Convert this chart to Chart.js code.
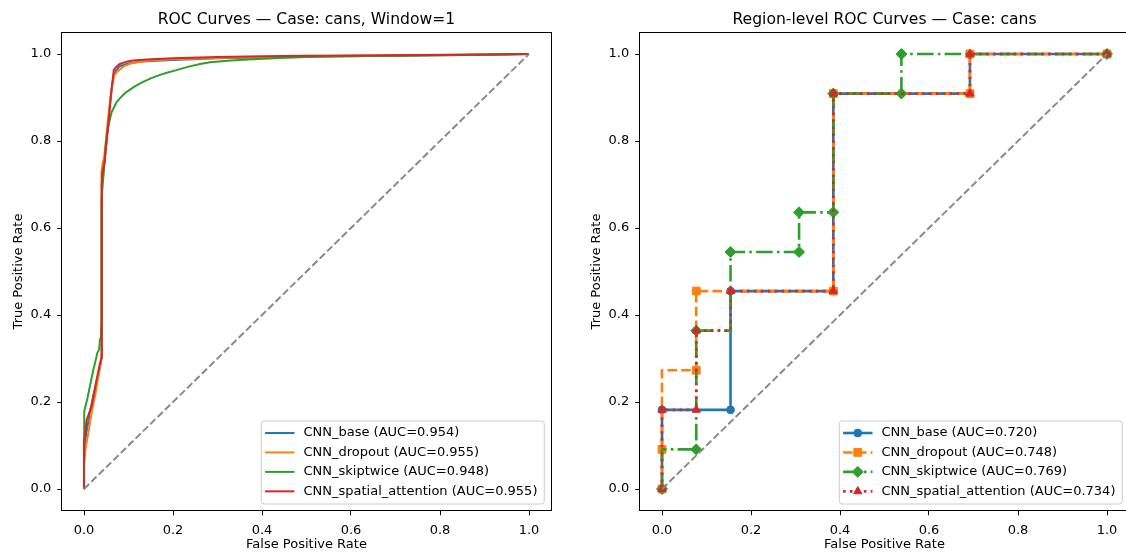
<!DOCTYPE html>
<html>
<head>
<meta charset="utf-8">
<title>ROC curves - cans</title>
<script src="https://cdn.jsdelivr.net/npm/chart.js@4.4.1/dist/chart.umd.min.js"></script>
<style>
  html, body { margin: 0; padding: 0; background: #fff; overflow: hidden; }
  body { width: 1126px; height: 552px; position: relative; }
  canvas { position: absolute; top: 0; }
  #pixelChart { left: 0; }
  #regionChart { left: 578px; }
</style>
</head>
<body>
<canvas id="pixelChart" width="563" height="552"></canvas>
<canvas id="regionChart" width="563" height="552"></canvas>
<script>
// Model names and AUC values from the legends
const modelNames = ['CNN_base', 'CNN_dropout', 'CNN_skiptwice', 'CNN_spatial_attention'];
const pixelAuc = [0.954, 0.955, 0.948, 0.955];
const regionAuc = [0.720, 0.748, 0.769, 0.734];
const tickValues = [0.0, 0.2, 0.4, 0.6, 0.8, 1.0];
const chanceLine = [0, 1];

// Pixel-level ROC curves, Window=1
const baseFpr = [0, 0, 0.004, 0.012, 0.022, 0.032, 0.038, 0.040, 0.040, 0.042, 0.047, 0.053, 0.060, 0.066, 0.072, 0.080, 0.100, 0.130, 0.200, 0.300, 0.400, 0.500, 0.700, 0.900, 1];
const baseTpr = [0, 0.07, 0.12, 0.17, 0.22, 0.26, 0.29, 0.31, 0.70, 0.73, 0.76, 0.83, 0.90, 0.95, 0.962, 0.972, 0.978, 0.983, 0.986, 0.990, 0.992, 0.994, 0.996, 0.998, 1];
const dropoutFpr = [0, 0, 0.004, 0.010, 0.017, 0.026, 0.034, 0.038, 0.039, 0.039, 0.040, 0.042, 0.045, 0.050, 0.056, 0.062, 0.068, 0.075, 0.090, 0.110, 0.150, 0.200, 0.300, 0.400, 0.500, 0.700, 0.900, 1];
const dropoutTpr = [0, 0.06, 0.097, 0.13, 0.174, 0.22, 0.27, 0.29, 0.31, 0.70, 0.73, 0.75, 0.76, 0.81, 0.87, 0.92, 0.95, 0.96, 0.972, 0.980, 0.985, 0.988, 0.991, 0.993, 0.995, 0.997, 0.999, 1];
const skipFpr = [0, 0, 0.001, 0.008, 0.015, 0.021, 0.026, 0.030, 0.034, 0.036, 0.038, 0.039, 0.039, 0.040, 0.042, 0.045, 0.048, 0.051, 0.056, 0.062, 0.073, 0.085, 0.096, 0.115, 0.133, 0.150, 0.171, 0.190, 0.208, 0.235, 0.261, 0.283, 0.330, 0.380, 0.440, 0.500, 0.600, 0.700, 0.800, 0.900, 1];
const skipTpr = [0, 0.12, 0.178, 0.21, 0.245, 0.274, 0.295, 0.313, 0.32, 0.345, 0.36, 0.38, 0.62, 0.664, 0.70, 0.733, 0.78, 0.81, 0.84, 0.866, 0.889, 0.903, 0.913, 0.926, 0.936, 0.944, 0.952, 0.958, 0.963, 0.971, 0.977, 0.981, 0.985, 0.988, 0.991, 0.993, 0.995, 0.996, 0.997, 0.998, 1];
const attnFpr = [0, 0, 0.006, 0.017, 0.028, 0.036, 0.039, 0.040, 0.041, 0.046, 0.052, 0.057, 0.062, 0.067, 0.072, 0.080, 0.095, 0.110, 0.150, 0.200, 0.300, 0.400, 0.500, 0.700, 0.900, 1];
const attnTpr = [0, 0.11, 0.159, 0.19, 0.25, 0.29, 0.30, 0.70, 0.726, 0.749, 0.81, 0.864, 0.92, 0.963, 0.970, 0.977, 0.982, 0.985, 0.988, 0.990, 0.993, 0.995, 0.996, 0.997, 0.999, 1];

// Region-level ROC curves (step vertices)
const regBaseFpr = [0, 0, 0.154, 0.154, 0.385, 0.385, 0.692, 0.692, 1];
const regBaseTpr = [0, 0.182, 0.182, 0.455, 0.455, 0.909, 0.909, 1, 1];
const regDropoutFpr = [0, 0, 0, 0.077, 0.077, 0.385, 0.385, 0.692, 0.692, 1];
const regDropoutTpr = [0, 0.091, 0.273, 0.273, 0.455, 0.455, 0.909, 0.909, 1, 1];
const regSkipFpr = [0, 0, 0.077, 0.077, 0.154, 0.154, 0.308, 0.308, 0.385, 0.385, 0.538, 0.538, 1];
const regSkipTpr = [0, 0.091, 0.091, 0.364, 0.364, 0.545, 0.545, 0.636, 0.636, 0.909, 0.909, 1, 1];
const regAttnFpr = [0, 0, 0.077, 0.077, 0.154, 0.154, 0.385, 0.385, 0.692, 0.692, 1];
const regAttnTpr = [0, 0.182, 0.182, 0.364, 0.364, 0.455, 0.455, 0.909, 0.909, 1, 1];
// bends that carry no threshold marker
const regBaseBends = [];
const regDropoutBends = [2];
const regSkipBends = [1, 4];
const regAttnBends = [4];

const colors = ['#1f77b4', '#ff7f0e', '#2ca02c', '#d62728'];

Chart.defaults.font.family = '"DejaVu Sans", sans-serif';
Chart.defaults.font.size = 13;
Chart.defaults.color = '#000';

function xy(xs, ys) {
    return xs.map((x, i) => ({ x: x, y: ys[i] }));
}

function axis(label, horizontal) {
    return {
        type: 'linear',
        min: -0.05,
        max: 1.05,
        afterBuildTicks: s => { s.ticks = tickValues.map(v => ({ value: v })); },
        afterFit: s => { if (horizontal) s.height = 41.25; else s.width = 61.75; },
        ticks: { callback: v => v.toFixed(1), padding: horizontal ? 8 : 6, autoSkip: false, maxRotation: 0 },
        grid: { drawOnChartArea: false, drawTicks: true, tickLength: 4.5, color: '#000', lineWidth: 1 },
        border: { display: false },
        title: { display: true, text: label, padding: horizontal ? { top: 0, bottom: 0 } : { top: 10.5, bottom: 0 } }
    };
}

// axes frame (spines)
const framePlugin = {
    id: 'frame',
    afterDatasetsDraw(chart) {
        const { ctx, chartArea: a } = chart;
        const l = Math.floor(a.left) + 0.5, t = Math.floor(a.top) + 0.5;
        const r = Math.floor(a.right) + 0.5, b = Math.floor(a.bottom) + 0.5;
        ctx.save();
        ctx.strokeStyle = '#000';
        ctx.lineWidth = 1;
        ctx.strokeRect(l, t, r - l, b - t);
        ctx.restore();
    }
};

// title centred over the axes, like matplotlib
const axTitle = {
    id: 'axTitle',
    afterDraw(chart, args, opts) {
        const { ctx, chartArea: a } = chart;
        ctx.save();
        ctx.font = '15.6px "DejaVu Sans"';
        ctx.fillStyle = '#000';
        ctx.textAlign = 'center';
        ctx.textBaseline = 'alphabetic';
        ctx.fillText(opts.text, (a.left + a.right) / 2, a.top - 7.8);
        ctx.restore();
    }
};

// lower-right boxed legend
const boxLegend = {
    id: 'boxLegend',
    afterDraw(chart) {
        const { ctx, chartArea: a } = chart;
        const items = chart.data.datasets.filter(d => d.label);
        ctx.save();
        ctx.font = '13px "DejaVu Sans"';
        const tw = Math.max(...items.map(d => ctx.measureText(d.label).width));
        const w = tw + 49, h = 83;
        const left = a.right - 7 - w, top = a.bottom - 6.75 - h;
        ctx.beginPath();
        ctx.roundRect(left, top, w, h, 3);
        ctx.fillStyle = 'rgba(255,255,255,0.8)';
        ctx.fill();
        ctx.strokeStyle = '#cccccc';
        ctx.lineWidth = 1;
        ctx.stroke();
        items.forEach((d, i) => {
            const y = top + 12 + i * 19.45;
            ctx.setLineDash(d.borderDash || []);
            ctx.strokeStyle = d.borderColor;
            ctx.lineWidth = d.borderWidth;
            ctx.beginPath();
            ctx.moveTo(left + 3.8, y);
            ctx.lineTo(left + 33.2, y);
            ctx.stroke();
            ctx.setLineDash([]);
            if (d.markerRadius) {
                ctx.fillStyle = d.borderColor;
                ctx.lineWidth = 1;
                Chart.helpers.drawPoint(ctx, { pointStyle: d.pointStyle, radius: d.markerRadius, borderWidth: 1, rotation: 0 }, left + 18.5, y);
            }
            ctx.fillStyle = '#000';
            ctx.textAlign = 'left';
            ctx.textBaseline = 'middle';
            ctx.fillText(d.label, left + 42.2, y);
        });
        ctx.restore();
    }
};

function chanceDataset() {
    return {
        data: xy(chanceLine, chanceLine),
        borderColor: '#888888',
        borderWidth: 1.95,
        borderDash: [7.2, 3.1],
        pointRadius: 0,
        order: 0
    };
}

function baseOptions(title) {
    return {
        responsive: false,
        devicePixelRatio: 1,
        animation: false,
        events: [],
        layout: { padding: { top: 32.25, right: 11.75, left: 0, bottom: 0 } },
        scales: { x: axis('False Positive Rate', true), y: axis('True Positive Rate', false) },
        plugins: { legend: { display: false }, tooltip: { enabled: false }, axTitle: { text: title } }
    };
}

// Pixel-level chart
const pixelSeries = [[baseFpr, baseTpr], [dropoutFpr, dropoutTpr], [skipFpr, skipTpr], [attnFpr, attnTpr]];
const pixelSets = pixelSeries.map((s, i) => ({
    label: `${modelNames[i]} (AUC=${pixelAuc[i].toFixed(3)})`,
    data: xy(s[0], s[1]),
    borderColor: colors[i],
    borderWidth: 2,
    borderJoinStyle: 'round',
    pointRadius: 0,
    order: 4 - i
}));
pixelSets.push(chanceDataset());

new Chart(document.getElementById('pixelChart'), {
    type: 'line',
    data: { datasets: pixelSets },
    options: baseOptions('ROC Curves \u2014 Case: cans, Window=1'),
    plugins: [framePlugin, axTitle, boxLegend]
});

// Region-level chart
const regionSeries = [
    [regBaseFpr, regBaseTpr, regBaseBends],
    [regDropoutFpr, regDropoutTpr, regDropoutBends],
    [regSkipFpr, regSkipTpr, regSkipBends],
    [regAttnFpr, regAttnTpr, regAttnBends]
];
const regionDash = [[], [9.6, 4.2], [16.6, 4.2, 2.6, 4.2], [2.6, 4.3]];
const regionMarker = ['circle', 'rect', 'rectRot', 'triangle'];
const regionRadius = [3.9, 5.5, 5.5, 4.8];
const regionSets = regionSeries.map((s, i) => ({
    label: `${modelNames[i]} (AUC=${regionAuc[i].toFixed(3)})`,
    data: xy(s[0], s[1]),
    borderColor: colors[i],
    borderWidth: 2.6,
    borderDash: regionDash[i],
    borderJoinStyle: 'round',
    pointStyle: regionMarker[i],
    markerRadius: regionRadius[i],
    pointRadius: c => s[2].includes(c.dataIndex) ? 0 : regionRadius[i],
    pointBackgroundColor: colors[i],
    pointBorderColor: colors[i],
    pointBorderWidth: 1,
    order: 4 - i
}));
regionSets.push(chanceDataset());

new Chart(document.getElementById('regionChart'), {
    type: 'line',
    data: { datasets: regionSets },
    options: baseOptions('Region-level ROC Curves \u2014 Case: cans'),
    plugins: [framePlugin, axTitle, boxLegend]
});
</script>
</body>
</html>
